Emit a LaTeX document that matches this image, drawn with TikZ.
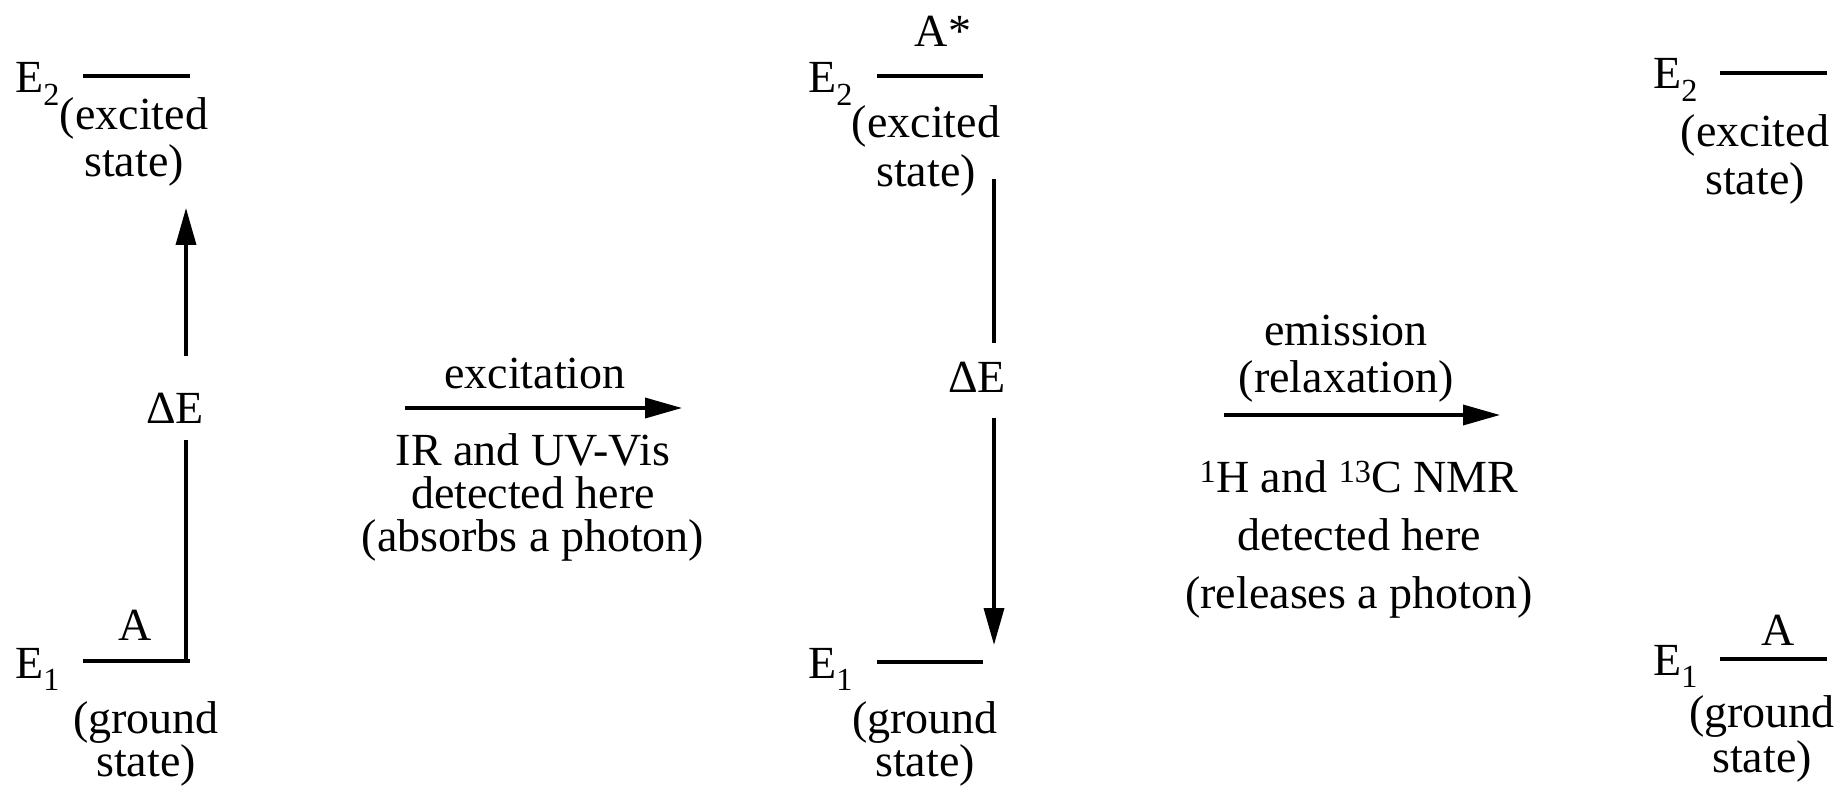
\documentclass[tikz,border=0pt]{standalone}
\usepackage{fontspec}
\setmainfont{Liberation Serif}
\usetikzlibrary{arrows.meta}
\newcommand{\fs}[1]{\fontsize{46}{#1}\selectfont\lineskiplimit=-100pt\relax}
\newcommand{\stk}[1]{\vtop{\halign{\hfil##\hfil\cr#1\crcr}}}
\tikzset{
  txt/.style={inner sep=0pt, font=\fs{47}},
  mtxt/.style={inner sep=0pt, anchor=base, font=\fs{#1}},
  lvl/.style={line width=3.5pt},
  arr/.style={line width=3.5pt, -{Triangle[length=37pt,width=20pt]}},
  seg/.style={line width=3.5pt},
}
\begin{document}
\begin{tikzpicture}[x=1pt,y=-1pt]
\useasboundingbox (0,0) rectangle (1844,786);
% ---------- left group ----------
\node[txt,anchor=base west] (lE2) at (15,93) {E\textsubscript{2}};
\coordinate (lL2a) at (83,76); \coordinate (lL2b) at (190,76);
\draw[lvl] (lL2a) -- (lL2b);
\node[mtxt=47] (lx) at (134,130) {\stk{(excited\cr state)}};
\node[txt,anchor=base west] (lE1) at (15,678) {E\textsubscript{1}};
\coordinate (lL1a) at (83,661); \coordinate (lL1b) at (190,661);
\draw[lvl] (lL1a) -- (lL1b);
\node[txt,anchor=base] (lA) at (135,640) {A};
\node[mtxt=43] (lg) at (146,733) {\stk{(ground\cr state)}};
\node[txt,anchor=base] (ldE) at (175,423) {ΔE};
\coordinate (lv0) at (186,662.7);
\coordinate (lv1) at (186,440);
\coordinate (lv2) at (186,356);
\coordinate (lv3) at (186,208);
\draw[seg] (lv0) -- (lv1);
\draw[arr] (lv2) -- (lv3);
% ---------- excitation arrow ----------
\node[txt,anchor=base] (exc) at (535,388) {excitation};
\coordinate (ea) at (405,408); \coordinate (eb) at (682,408);
\draw[arr] (ea) -- (eb);
\node[mtxt=43] (ir) at (533,465) {\stk{IR and UV-Vis\cr detected here\cr (absorbs a photon)}};
% ---------- middle group ----------
\node[txt,anchor=base] (mA) at (943,47) {A*};
\node[txt,anchor=base west] (mE2) at (808,93) {E\textsubscript{2}};
\coordinate (mL2a) at (877,76); \coordinate (mL2b) at (983,76);
\draw[lvl] (mL2a) -- (mL2b);
\node[mtxt=49] (mx) at (926,138) {\stk{(excited\cr state)}};
\node[txt,anchor=base west] (mE1) at (808,678) {E\textsubscript{1}};
\coordinate (mL1a) at (877,662); \coordinate (mL1b) at (983,662);
\draw[lvl] (mL1a) -- (mL1b);
\node[mtxt=43] (mg) at (925,733) {\stk{(ground\cr state)}};
\node[txt,anchor=base] (mdE) at (977,392) {ΔE};
\coordinate (mv0) at (994,179);
\coordinate (mv1) at (994,343);
\coordinate (mv2) at (994,418);
\coordinate (mv3) at (994,645);
\draw[seg] (mv0) -- (mv1);
\draw[arr] (mv2) -- (mv3);
% ---------- emission arrow ----------
\node[mtxt=47] (em) at (1346,345) {\stk{emission\cr (relaxation)}};
\coordinate (ra) at (1224,415); \coordinate (rb) at (1500,415);
\draw[arr] (ra) -- (rb);
\node[mtxt=58] (nm) at (1359,492) {\stk{\textsuperscript{1}H and \textsuperscript{13}C NMR\cr detected here\cr (releases a photon)}};
% ---------- right group ----------
\node[txt,anchor=base west] (rE2) at (1653,89) {E\textsubscript{2}};
\coordinate (rL2a) at (1720,73); \coordinate (rL2b) at (1827,73);
\draw[lvl] (rL2a) -- (rL2b);
\node[mtxt=48] (rx) at (1755,147) {\stk{(excited\cr state)}};
\node[txt,anchor=base west] (rE1) at (1653,675) {E\textsubscript{1}};
\coordinate (rL1a) at (1720,659); \coordinate (rL1b) at (1827,659);
\draw[lvl] (rL1a) -- (rL1b);
\node[txt,anchor=base] (rA) at (1778,645) {A};
\node[mtxt=45] (rg) at (1762,727) {\stk{(ground\cr state)}};
\end{tikzpicture}
\end{document}
